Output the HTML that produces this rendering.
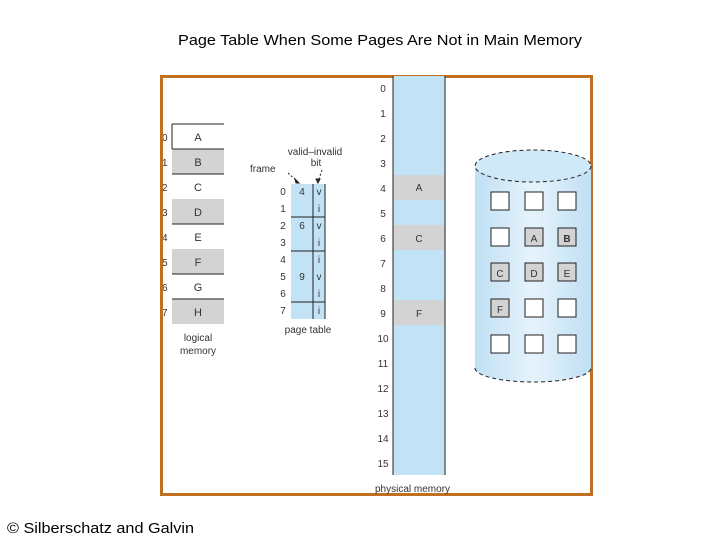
<!DOCTYPE html>
<html><head><style>
body{margin:0;width:720px;height:540px;background:#fff;overflow:hidden;font-family:"Liberation Sans",sans-serif}
</style></head><body>
<svg width="720" height="540" xmlns="http://www.w3.org/2000/svg" font-family="Liberation Sans, sans-serif">
<defs>
<linearGradient id="cyl" x1="0" x2="1" y1="0" y2="0">
<stop offset="0" stop-color="#bfe0f4"/><stop offset="0.5" stop-color="#e6f3fb"/><stop offset="1" stop-color="#bfe0f4"/>
</linearGradient>
</defs>
<text x="380" y="45" font-size="15" text-anchor="middle" fill="#000" textLength="404" lengthAdjust="spacingAndGlyphs">Page Table When Some Pages Are Not in Main Memory</text>
<text x="7" y="533" font-size="15" fill="#000" textLength="187" lengthAdjust="spacingAndGlyphs">© Silberschatz and Galvin</text>

<!-- logical memory -->
<g font-size="11" fill="#333">
<rect x="172" y="149" width="52" height="25" fill="#d3d3d3"/>
<rect x="172" y="199" width="52" height="25" fill="#d3d3d3"/>
<rect x="172" y="249" width="52" height="25" fill="#d3d3d3"/>
<rect x="172" y="299" width="52" height="25" fill="#d3d3d3"/>
<path d="M172 124H224M172 124V149M172 149H224M172 174H224M172 224H224M172 274H224M172 299H224" stroke="#222" stroke-width="1" fill="none"/>
<g text-anchor="middle">
<text x="198" y="141">A</text><text x="198" y="166">B</text><text x="198" y="191">C</text><text x="198" y="216">D</text>
<text x="198" y="241">E</text><text x="198" y="266">F</text><text x="198" y="291">G</text><text x="198" y="316">H</text>
</g>
<g font-size="10"><text x="162" y="141">0</text><text x="162" y="166">1</text><text x="162" y="191">2</text><text x="162" y="216">3</text><text x="162" y="241">4</text><text x="162" y="266">5</text><text x="162" y="291">6</text><text x="162" y="316">7</text></g>
<text x="198" y="341" text-anchor="middle" font-size="10">logical</text>
<text x="198" y="354" text-anchor="middle" font-size="10">memory</text>
</g>
<rect x="161.5" y="76.5" width="430" height="418" fill="none" stroke="#c0701e" stroke-width="3"/>

<!-- page table -->
<g font-size="10" fill="#333">
<rect x="291" y="184" width="34" height="135" fill="#c2e3f6"/>
<path d="M313 184V319M325 184V319M291 217H325M291 251H325M291 302H325" stroke="#222" stroke-width="1"/>
<g text-anchor="middle">
<text x="283" y="195">0</text><text x="283" y="212">1</text><text x="283" y="229">2</text><text x="283" y="246">3</text>
<text x="283" y="263">4</text><text x="283" y="280">5</text><text x="283" y="297">6</text><text x="283" y="314">7</text>
<text x="302" y="195">4</text><text x="302" y="229">6</text><text x="302" y="280">9</text>
<text x="319" y="195">v</text><text x="319" y="212">i</text><text x="319" y="229">v</text><text x="319" y="246">i</text>
<text x="319" y="263">i</text><text x="319" y="280">v</text><text x="319" y="297">i</text><text x="319" y="314">i</text>
</g>
<text x="315" y="155" text-anchor="middle">valid–invalid</text>
<text x="316" y="166" text-anchor="middle">bit</text>
<text x="250" y="172">frame</text>
<text x="308" y="333" text-anchor="middle">page table</text>
<path d="M288 173L298 182M322 170L318 182" stroke="#222" stroke-dasharray="2 2"/>
<path d="M295 179L299 183L296 183ZM316 179L318 183L320 179Z" fill="#222" stroke="#222"/>
</g>

<!-- physical memory -->
<g font-size="10" fill="#333">
<rect x="393" y="76" width="52" height="399" fill="#c2e3f6"/>
<rect x="393" y="175" width="52" height="25" fill="#d3d3d3"/>
<rect x="393" y="225" width="52" height="25" fill="#d3d3d3"/>
<rect x="393" y="300" width="52" height="25" fill="#d3d3d3"/>
<path d="M393 76V475M445 76V475" stroke="#222"/>
<g text-anchor="middle">
<text x="419" y="191">A</text><text x="419" y="242">C</text><text x="419" y="317">F</text>
<text x="383" y="92">0</text><text x="383" y="117">1</text><text x="383" y="142">2</text><text x="383" y="167">3</text>
<text x="383" y="192">4</text><text x="383" y="217">5</text><text x="383" y="242">6</text><text x="383" y="267">7</text>
<text x="383" y="292">8</text><text x="383" y="317">9</text><text x="383" y="342">10</text><text x="383" y="367">11</text>
<text x="383" y="392">12</text><text x="383" y="417">13</text><text x="383" y="442">14</text><text x="383" y="467">15</text>
</g>
<text x="375" y="492">physical memory</text>
</g>

<!-- disk -->
<g font-size="10" fill="#333">
<path d="M475 166V368A58 14 0 0 0 591 368V166Z" fill="url(#cyl)"/>
<ellipse cx="533" cy="166" rx="58" ry="16" fill="#cfe9f8" stroke="#222" stroke-dasharray="4 3"/>
<path d="M475 368A58 14 0 0 0 591 368" fill="none" stroke="#222" stroke-dasharray="4 3"/>
<g stroke="#222" stroke-width="1">
<rect x="491" y="192" width="18" height="18" fill="#fff"/><rect x="525" y="192" width="18" height="18" fill="#fff"/><rect x="558" y="192" width="18" height="18" fill="#fff"/>
<rect x="491" y="228" width="18" height="18" fill="#fff"/><rect x="525" y="228" width="18" height="18" fill="#d3d3d3"/><rect x="558" y="228" width="18" height="18" fill="#d3d3d3"/>
<rect x="491" y="263" width="18" height="18" fill="#d3d3d3"/><rect x="525" y="263" width="18" height="18" fill="#d3d3d3"/><rect x="558" y="263" width="18" height="18" fill="#d3d3d3"/>
<rect x="491" y="299" width="18" height="18" fill="#d3d3d3"/><rect x="525" y="299" width="18" height="18" fill="#fff"/><rect x="558" y="299" width="18" height="18" fill="#fff"/>
<rect x="491" y="335" width="18" height="18" fill="#fff"/><rect x="525" y="335" width="18" height="18" fill="#fff"/><rect x="558" y="335" width="18" height="18" fill="#fff"/>
</g>
<g text-anchor="middle">
<text x="534" y="242">A</text><text x="567" y="242" font-weight="bold">B</text>
<text x="500" y="277">C</text><text x="534" y="277">D</text><text x="567" y="277">E</text>
<text x="500" y="313">F</text>
</g>
</g>
</svg>
</body></html>
